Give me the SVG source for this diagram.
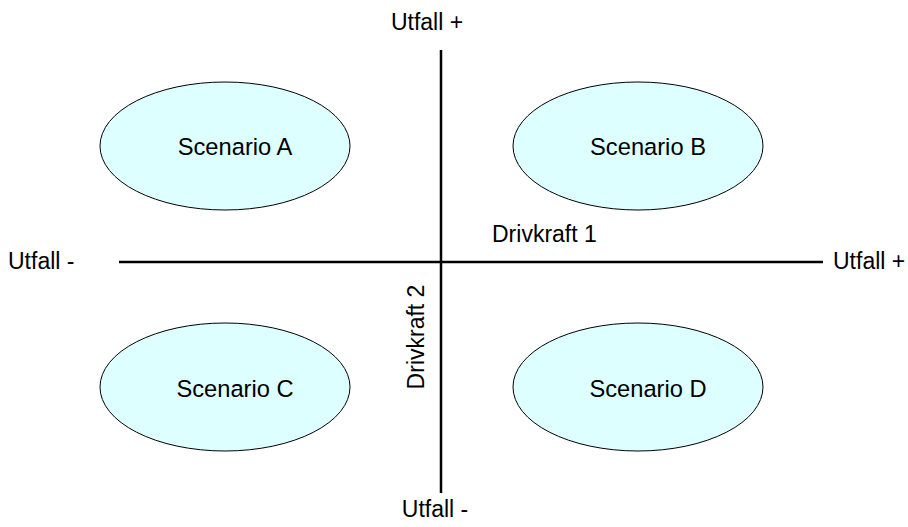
<svg xmlns="http://www.w3.org/2000/svg" width="908" height="527" viewBox="0 0 908 527">
  <style>
    .scn ellipse { fill: #ddffff; stroke: #000; stroke-width: 1; }
    text { font-family: "Liberation Sans", Arial, sans-serif; font-size: 23px; fill: #000; }
    .scn text { font-size: 23.7px; }
    .mid { text-anchor: middle; }
    .axis { stroke: #000; stroke-width: 2.5; fill: none; }
  </style>
  <rect width="908" height="527" fill="#fff"/>
  <g id="axes">
    <line class="axis" x1="441" y1="50" x2="441" y2="493"/>
    <line class="axis" x1="119" y1="262" x2="823" y2="262"/>
  </g>
  <g id="axis-labels">
    <text class="mid" x="427" y="30">Utfall +</text>
    <text class="mid" x="435" y="517">Utfall -</text>
    <text x="8" y="269">Utfall -</text>
    <text x="833" y="269">Utfall +</text>
    <text x="492" y="242">Drivkraft 1</text>
    <text class="mid" transform="translate(424,337) rotate(-90)">Drivkraft 2</text>
  </g>
  <g id="scenario-a" class="scn">
    <ellipse cx="225" cy="146" rx="125" ry="64"/>
    <text class="mid" x="235" y="155">Scenario A</text>
  </g>
  <g id="scenario-b" class="scn">
    <ellipse cx="638" cy="146" rx="125" ry="64"/>
    <text class="mid" x="648" y="155">Scenario B</text>
  </g>
  <g id="scenario-c" class="scn">
    <ellipse cx="225" cy="387" rx="125" ry="64"/>
    <text class="mid" x="235" y="397">Scenario C</text>
  </g>
  <g id="scenario-d" class="scn">
    <ellipse cx="638" cy="387" rx="125" ry="64"/>
    <text class="mid" x="648" y="397">Scenario D</text>
  </g>
</svg>
